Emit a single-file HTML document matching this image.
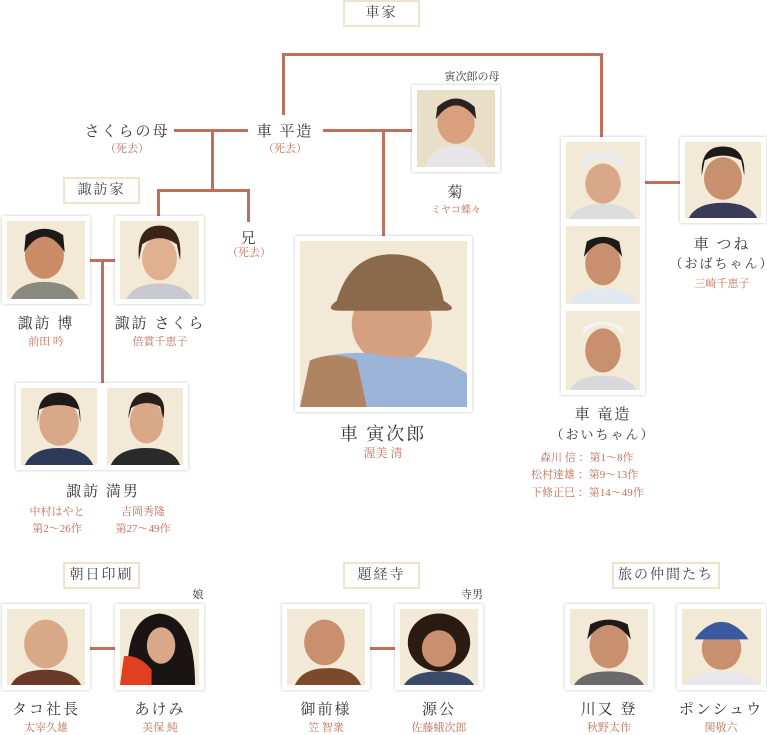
<!DOCTYPE html>
<html><head><meta charset="utf-8">
<style>
body{margin:0;width:767px;height:732px;background:#fff;position:relative;overflow:hidden;font-family:"Liberation Serif","Noto Serif CJK SC","Noto Sans CJK JP",serif;color:#333}
.a{position:absolute}
.ln{position:absolute;background:#c0705a}
.box{position:absolute;height:23px;border:2px solid #efe3cc;background:#fff;text-align:center;line-height:23px;font-size:14px;color:#444;letter-spacing:2px}
.ph{position:absolute;background:#fff;box-shadow:0 0 3px rgba(0,0,0,.25)}
.ph .in{position:absolute;left:5px;top:5px;right:5px;bottom:5px;background:#f2e9d6;overflow:hidden}
.ph svg{width:100%;height:100%;display:block}
.t{position:absolute;text-align:center;transform:translateX(-50%);white-space:nowrap}
.n{font-size:15px;color:#333;letter-spacing:2px}
.c{font-size:11px;color:#c0705a}
</style></head><body>
<!-- lines -->
<div class="ln" style="left:282px;top:53px;width:321px;height:3px"></div>
<div class="ln" style="left:282px;top:53px;width:3px;height:62px"></div>
<div class="ln" style="left:600px;top:53px;width:3px;height:84px"></div>
<div class="ln" style="left:174px;top:129px;width:74px;height:3px"></div>
<div class="ln" style="left:211px;top:129px;width:3px;height:62px"></div>
<div class="ln" style="left:157px;top:189px;width:92px;height:3px"></div>
<div class="ln" style="left:157px;top:189px;width:3px;height:29px"></div>
<div class="ln" style="left:247px;top:189px;width:3px;height:33px"></div>
<div class="ln" style="left:323px;top:129px;width:89px;height:3px"></div>
<div class="ln" style="left:382px;top:129px;width:3px;height:108px"></div>
<div class="ln" style="left:645px;top:181px;width:35px;height:3px"></div>
<div class="ln" style="left:90px;top:259px;width:25px;height:3px"></div>
<div class="ln" style="left:101px;top:259px;width:3px;height:125px"></div>
<div class="ln" style="left:90px;top:647px;width:25px;height:3px"></div>
<div class="ln" style="left:370px;top:647px;width:25px;height:3px"></div>

<!-- boxes -->
<div class="box" style="left:343px;top:0;width:73px">車家</div>
<div class="box" style="left:63px;top:177px;width:73px">諏訪家</div>
<div class="box" style="left:63px;top:562px;width:73px">朝日印刷</div>
<div class="box" style="left:343px;top:562px;width:73px">題経寺</div>
<div class="box" style="left:612px;top:562px;width:104px">旅の仲間たち</div>

<!-- text only -->
<div class="t n" style="left:127px;top:120px">さくらの母</div>
<div class="t c" style="left:127px;top:140px">（死去）</div>
<div class="t n" style="left:285px;top:120px">車 平造</div>
<div class="t c" style="left:285px;top:140px">（死去）</div>
<div class="t n" style="left:249px;top:227px">兄</div>
<div class="t c" style="left:249px;top:244px">（死去）</div>
<div class="t" style="left:472px;top:68px;font-size:11px;color:#333">寅次郎の母</div>
<div class="t" style="left:198px;top:586px;font-size:11px;color:#333">娘</div>
<div class="t" style="left:472px;top:586px;font-size:11px;color:#333">寺男</div>

<!-- photos -->
<div class="ph" style="left:412px;top:85px;width:88px;height:87px"><div class="in" style="background:#e9dfc9"><svg viewBox="0 0 100 100" preserveAspectRatio="none"><ellipse cx="50" cy="42" rx="24" ry="28" fill="#d8a07c"/><path d="M24 38Q50 2 76 38L74 22Q50 0 26 22Z" fill="#2a2220"/><path d="M10 100Q20 72 50 72Q80 72 90 100Z" fill="#e8e4e8"/></svg></div></div>
<div class="t n" style="left:456px;top:181px">菊</div>
<div class="t c" style="left:456px;top:201px;font-size:10px">ミヤコ蝶々</div>

<div class="ph" style="left:2px;top:216px;width:88px;height:88px"><div class="in"><svg viewBox="0 0 100 100" preserveAspectRatio="none"><ellipse cx="48" cy="44" rx="25" ry="30" fill="#c98c66"/><path d="M22 40Q48 0 74 40L72 18Q48 2 24 18Z" fill="#1e1a18"/><path d="M5 100Q15 78 48 78Q82 78 92 100Z" fill="#8a8a80"/></svg></div></div>
<div class="t n" style="left:46px;top:312px">諏訪 博</div>
<div class="t c" style="left:46px;top:333px">前田 吟</div>

<div class="ph" style="left:115px;top:216px;width:89px;height:88px"><div class="in"><svg viewBox="0 0 100 100" preserveAspectRatio="none"><ellipse cx="50" cy="48" rx="22" ry="28" fill="#e0b090"/><path d="M24 50Q20 6 50 6Q80 6 76 50L72 30Q50 14 28 30Z" fill="#3a2418"/><path d="M8 100Q18 80 50 80Q82 80 92 100Z" fill="#c8c8d0"/></svg></div></div>
<div class="t n" style="left:160px;top:312px">諏訪 さくら</div>
<div class="t c" style="left:160px;top:333px">倍賞千恵子</div>

<div class="ph" style="left:16px;top:383px;width:172px;height:87px"><div class="in" style="right:91px"><svg viewBox="0 0 100 100" preserveAspectRatio="none"><ellipse cx="50" cy="45" rx="26" ry="30" fill="#d8a888"/><path d="M22 45Q20 6 50 6Q80 6 78 45L76 28Q50 16 24 28Z" fill="#1e1a18"/><path d="M5 100Q15 78 50 78Q85 78 95 100Z" fill="#2e3a5a"/></svg></div><div class="in" style="left:91px"><svg viewBox="0 0 100 100" preserveAspectRatio="none"><ellipse cx="52" cy="44" rx="22" ry="28" fill="#d8a888"/><path d="M28 40Q30 4 56 6Q80 10 74 40L70 24Q50 14 32 26Z" fill="#2a1e18"/><path d="M5 100Q15 78 52 78Q88 78 96 100Z" fill="#2a2a2a"/></svg></div></div>
<div class="t n" style="left:103px;top:480px">諏訪 満男</div>
<div class="t c" style="left:57px;top:503px">中村はやと</div>
<div class="t c" style="left:57px;top:520px">第2〜26作</div>
<div class="t c" style="left:143px;top:503px">吉岡秀隆</div>
<div class="t c" style="left:143px;top:520px">第27〜49作</div>

<div class="ph" style="left:295px;top:236px;width:177px;height:176px"><div class="in"><svg viewBox="0 0 100 100" preserveAspectRatio="none"><ellipse cx="55" cy="50" rx="24" ry="24" fill="#d4a080"/><path d="M22 36Q30 8 55 8Q82 8 86 36Q96 42 86 42L24 42Q14 42 22 36Z" fill="#8b6a4c"/><path d="M0 100L6 72Q30 64 55 70Q85 68 100 80L100 100Z" fill="#9cb4d8"/><path d="M0 100L6 72Q20 66 34 72L40 100Z" fill="#b08460"/></svg></div></div>
<div class="t" style="left:383px;top:420px;font-size:18px;letter-spacing:2px">車 寅次郎</div>
<div class="t c" style="left:383px;top:444px;font-size:12px">渥美 清</div>

<div class="ph" style="left:561px;top:137px;width:84px;height:258px">
<div class="in" style="bottom:176px"><svg viewBox="0 0 100 100" preserveAspectRatio="none"><ellipse cx="50" cy="54" rx="24" ry="26" fill="#d8a888"/><path d="M20 36Q50 4 80 36L76 20Q50 6 24 20Z" fill="#e8ecf0"/><path d="M5 100Q15 80 50 80Q85 80 95 100Z" fill="#dcdcdc"/></svg></div>
<div class="in" style="top:89px;bottom:91px"><svg viewBox="0 0 100 100" preserveAspectRatio="none"><ellipse cx="50" cy="48" rx="24" ry="28" fill="#c99070"/><path d="M24 40Q50 4 76 40L72 20Q50 8 28 20Z" fill="#1e1a18"/><path d="M5 100Q15 80 50 80Q85 80 95 100Z" fill="#e0e8f0"/></svg></div>
<div class="in" style="top:174px"><svg viewBox="0 0 100 100" preserveAspectRatio="none"><ellipse cx="50" cy="50" rx="24" ry="28" fill="#c99070"/><path d="M22 30Q50 4 78 30L76 20Q50 8 24 20Z" fill="#f4f4f4"/><path d="M5 100Q15 82 50 82Q85 82 95 100Z" fill="#d8d8dc"/></svg></div>
</div>
<div class="t n" style="left:603px;top:403px">車 竜造</div>
<div class="t" style="left:603px;top:424px;font-size:13px;letter-spacing:2px">（おいちゃん）</div>
<div class="a c" style="left:540px;top:449px">森川 信 ：第1〜8作</div>
<div class="a c" style="left:543px;top:466px;left:531px">松村達雄 ：第9〜13作</div>
<div class="a c" style="left:543px;top:484px;left:531px">下條正巳 ：第14〜49作</div>

<div class="ph" style="left:680px;top:137px;width:86px;height:86px"><div class="in"><svg viewBox="0 0 100 100" preserveAspectRatio="none"><ellipse cx="50" cy="48" rx="25" ry="28" fill="#c99070"/><path d="M22 44Q20 6 50 6Q80 6 78 44L74 24Q50 12 26 24Z" fill="#1e1a18"/><path d="M5 100Q15 80 50 80Q85 80 95 100Z" fill="#3a3a5a"/></svg></div></div>
<div class="t n" style="left:722px;top:233px">車 つね</div>
<div class="t" style="left:722px;top:253px;font-size:13px;letter-spacing:2px">（おばちゃん）</div>
<div class="t c" style="left:722px;top:275px">三崎千恵子</div>

<!-- bottom -->
<div class="ph" style="left:2px;top:604px;width:88px;height:86px"><div class="in"><svg viewBox="0 0 100 100" preserveAspectRatio="none"><ellipse cx="50" cy="46" rx="28" ry="32" fill="#d8a888"/><path d="M5 100Q15 80 50 80Q85 80 95 100Z" fill="#6a3a28"/></svg></div></div>
<div class="t n" style="left:46px;top:698px">タコ社長</div>
<div class="t c" style="left:46px;top:719px">太宰久雄</div>
<div class="ph" style="left:115px;top:604px;width:89px;height:86px"><div class="in"><svg viewBox="0 0 100 100" preserveAspectRatio="none"><path d="M10 100Q5 10 50 6Q95 10 95 100Z" fill="#1a1414"/><ellipse cx="52" cy="48" rx="18" ry="24" fill="#d8a888"/><path d="M0 100L5 62Q25 60 40 80L40 100Z" fill="#e04020"/></svg></div></div>
<div class="t n" style="left:160px;top:698px">あけみ</div>
<div class="t c" style="left:160px;top:719px">美保 純</div>

<div class="ph" style="left:282px;top:604px;width:88px;height:86px"><div class="in"><svg viewBox="0 0 100 100" preserveAspectRatio="none"><ellipse cx="48" cy="44" rx="26" ry="30" fill="#c99070"/><path d="M10 100Q20 78 50 78Q85 76 95 100Z" fill="#7a4a2a"/></svg></div></div>
<div class="t n" style="left:326px;top:698px">御前様</div>
<div class="t c" style="left:326px;top:719px">笠 智衆</div>
<div class="ph" style="left:395px;top:604px;width:88px;height:86px"><div class="in"><svg viewBox="0 0 100 100" preserveAspectRatio="none"><ellipse cx="50" cy="44" rx="40" ry="38" fill="#2a1a12"/><ellipse cx="50" cy="52" rx="22" ry="24" fill="#c99070"/><path d="M5 100Q15 82 50 82Q85 82 95 100Z" fill="#3a4a6a"/></svg></div></div>
<div class="t n" style="left:439px;top:698px">源公</div>
<div class="t c" style="left:439px;top:719px">佐藤蛾次郎</div>

<div class="ph" style="left:565px;top:604px;width:88px;height:86px"><div class="in"><svg viewBox="0 0 100 100" preserveAspectRatio="none"><ellipse cx="50" cy="48" rx="25" ry="30" fill="#c99070"/><path d="M22 40Q50 2 78 40L74 20Q50 8 26 20Z" fill="#1e1a18"/><path d="M5 100Q15 82 50 82Q85 82 95 100Z" fill="#6a6a6a"/></svg></div></div>
<div class="t n" style="left:609px;top:698px">川又 登</div>
<div class="t c" style="left:609px;top:719px">秋野太作</div>
<div class="ph" style="left:677px;top:604px;width:89px;height:86px"><div class="in"><svg viewBox="0 0 100 100" preserveAspectRatio="none"><ellipse cx="50" cy="52" rx="25" ry="28" fill="#c99070"/><path d="M20 34Q50 0 80 34L84 40L16 40Z" fill="#3a5aa0"/><path d="M5 100Q15 82 50 82Q85 82 95 100Z" fill="#e8e8ec"/></svg></div></div>
<div class="t n" style="left:721px;top:698px">ポンシュウ</div>
<div class="t c" style="left:721px;top:719px">関敬六</div>
</body></html>
